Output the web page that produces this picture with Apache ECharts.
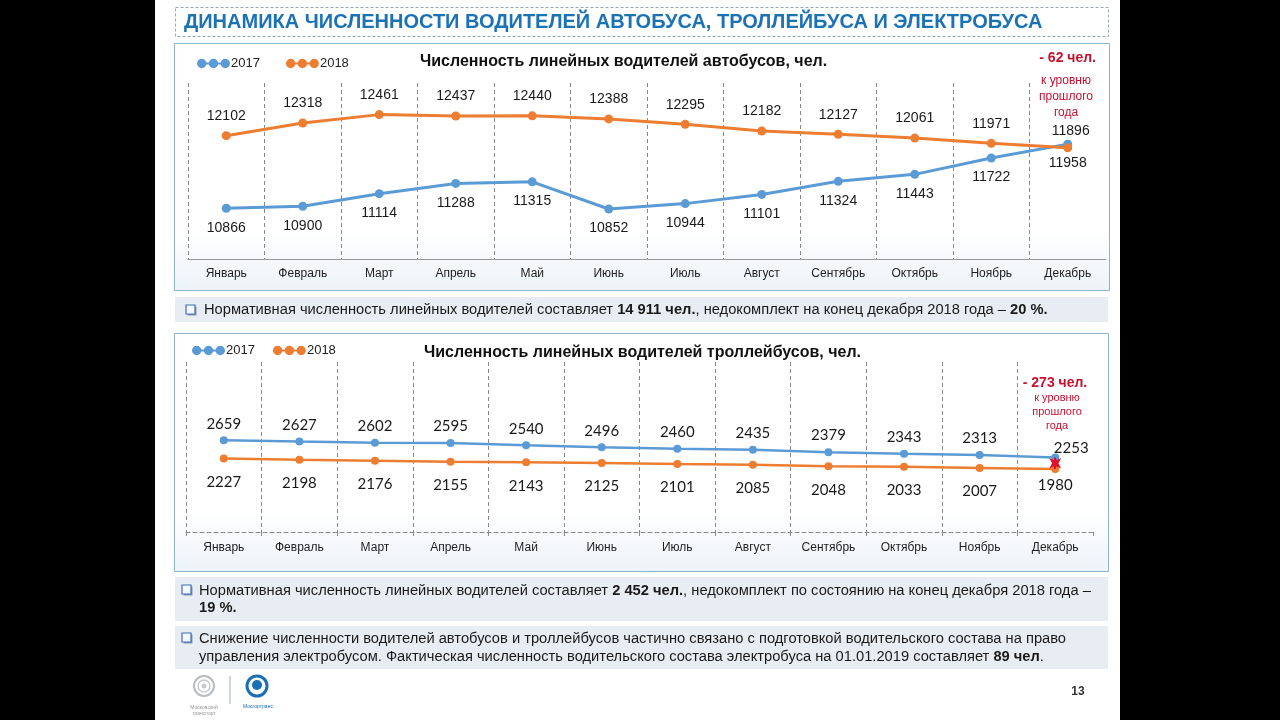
<!DOCTYPE html>
<html><head><meta charset="utf-8">
<script src="https://cdn.jsdelivr.net/npm/echarts@6/dist/echarts.min.js"></script>
<style>html,body{margin:0;padding:0;background:#000;}#c{width:1280px;height:720px;}</style>
</head><body><div id="c"></div>
<script>
const months = ['Январь','Февраль','Март','Апрель','Май','Июнь','Июль','Август','Сентябрь','Октябрь','Ноябрь','Декабрь'];
const years = ['2017','2018'];
const bus2017 = [10866,10900,11114,11288,11315,10852,10944,11101,11324,11443,11722,11958];
const bus2018 = [12102,12318,12461,12437,12440,12388,12295,12182,12127,12061,11971,11896];
const trol2017 = [2659,2627,2602,2595,2540,2496,2460,2435,2379,2343,2313,2253];
const trol2018 = [2227,2198,2176,2155,2143,2125,2101,2085,2048,2033,2007,1980];

const F = '"Liberation Sans", Arial, sans-serif';
const BLUE = '#5B9BD5', ORANGE = '#ED7D31', RED = '#C8102E';
const ICON = 'path://M5,4.2H25V5.8H5Z M1,5A4,4 0 1,1 9,5A4,4 0 1,1 1,5Z M11,5A4,4 0 1,1 19,5A4,4 0 1,1 11,5Z M21,5A4,4 0 1,1 29,5A4,4 0 1,1 21,5Z';

function withLast(vals, lastLabel){
  return vals.map((v,i)=> i===vals.length-1 ? {value:v, label:lastLabel} : v);
}

const chart = echarts.init(document.getElementById('c'), null, {renderer:'canvas'});

const FS = 14.7;
function bullet(x,y){
  return [
    {type:'rect', z:5, shape:{x:x+1.5,y:y+1.5,width:9,height:9}, style:{fill:'#8a9bb0'}},
    {type:'rect', z:6, shape:{x:x,y:y,width:9,height:9}, style:{fill:'#f4f8fc', stroke:'#3F6FB0', lineWidth:1.2}}
  ];
}
function txt(x,y,text){
  return {type:'text', z:10, x:x, y:y, style:{text:text, font:FS+'px '+F, fill:'#1a1a1a', verticalAlign:'middle',
    rich:{b:{fontWeight:'bold', fontSize:FS, fontFamily:F, fill:'#1a1a1a'}}}};
}

const graphic = [
  {type:'rect', z:-20, shape:{x:155,y:0,width:965,height:720}, style:{fill:'#ffffff'}},
  {type:'rect', z:-19, shape:{x:175.5,y:7.5,width:933,height:29}, style:{fill:'#ffffff', stroke:'#9aa6b2', lineWidth:1, lineDash:[3,2]}},
  {type:'rect', z:-18, shape:{x:174.5,y:43.5,width:935,height:247}, style:{fill:new echarts.graphic.LinearGradient(0,0,0,1,[{offset:0,color:'#ffffff'},{offset:0.75,color:'#ffffff'},{offset:1,color:'#edf3f8'}]), stroke:'#8fb2c8', lineWidth:1}},
  {type:'rect', z:-18, shape:{x:174.5,y:333.5,width:934,height:238}, style:{fill:new echarts.graphic.LinearGradient(0,0,0,1,[{offset:0,color:'#ffffff'},{offset:0.75,color:'#ffffff'},{offset:1,color:'#edf3f8'}]), stroke:'#8fb2c8', lineWidth:1}},
  {type:'rect', z:-18, shape:{x:175,y:297,width:933,height:25}, style:{fill:'#e8edf4'}},
  {type:'rect', z:-18, shape:{x:175,y:577,width:933,height:44}, style:{fill:'#e8edf4'}},
  {type:'rect', z:-18, shape:{x:175,y:626,width:933,height:43}, style:{fill:'#e8edf4'}},
  ...bullet(186,305),
  ...bullet(182,585),
  ...bullet(182,633),
  txt(204,310,'Нормативная численность линейных водителей составляет {b|14 911 чел.}, недокомплект на конец декабря 2018 года – {b|20 %.}'),
  txt(199,591,'Нормативная численность линейных водителей составляет {b|2 452 чел.}, недокомплект по состоянию на конец декабря 2018 года –'),
  txt(199,608,'{b|19 %.}'),
  txt(199,639,'Снижение численности водителей автобусов и троллейбусов частично связано с подготовкой водительского состава на право'),
  txt(199,657,'управления электробусом. Фактическая численность водительского состава электробуса на 01.01.2019 составляет {b|89 чел}.'),
  {type:'text', z:10, x:1096, y:58, style:{text:'- 62 чел.', font:'bold 14px '+F, fill:RED, align:'right', verticalAlign:'middle'}},
  {type:'text', z:10, x:1066, y:73, style:{text:'к уровню\nпрошлого\nгода', font:'12px '+F, fill:RED, align:'center', verticalAlign:'top', lineHeight:16}},
  {type:'text', z:10, x:1055, y:383, style:{text:'- 273 чел.', font:'bold 14px '+F, fill:RED, align:'center', verticalAlign:'middle'}},
  {type:'text', z:10, x:1057, y:391, style:{text:'к уровню\nпрошлого\nгода', font:'11px '+F, fill:RED, align:'center', verticalAlign:'top', lineHeight:14}},
  {type:'text', z:10, x:1078, y:692, style:{text:'13', font:'bold 12px '+F, fill:'#333', align:'center', verticalAlign:'middle'}},
  {type:'circle', z:5, shape:{cx:204,cy:686,r:10}, style:{fill:'none', stroke:'#b8bcc0', lineWidth:2}},
  {type:'circle', z:5, shape:{cx:204,cy:686,r:6}, style:{fill:'none', stroke:'#c8ccd0', lineWidth:1.5}},
  {type:'circle', z:5, shape:{cx:204,cy:686,r:2.5}, style:{fill:'#c8ccd0'}},
  {type:'text', z:5, x:204, y:705, style:{text:'Московский\nтранспорт', font:'5px '+F, fill:'#999', align:'center', verticalAlign:'top', lineHeight:6}},
  {type:'line', z:5, shape:{x1:230,y1:676,x2:230,y2:704}, style:{stroke:'#9aa8b8', lineWidth:1}},
  {type:'circle', z:5, shape:{cx:257,cy:686,r:10}, style:{fill:'none', stroke:'#1a6fb5', lineWidth:3}},
  {type:'circle', z:5, shape:{cx:257,cy:685,r:5}, style:{fill:'#1a6fb5'}},
  {type:'text', z:5, x:258, y:704, style:{text:'Мосгортранс', font:'5px '+F, fill:'#1a6fb5', align:'center', verticalAlign:'top'}}
];

const labelBase = {show:true, fontFamily:F, fontSize:14, color:'#1a1a1a'};
const label2Base = {show:true, fontFamily:'Lato, "Open Sans", sans-serif', fontSize:15, color:'#1a1a1a'};

const option = {
  backgroundColor:'#000000',
  animation:false,
  title:[
    {text:'ДИНАМИКА ЧИСЛЕННОСТИ ВОДИТЕЛЕЙ АВТОБУСА, ТРОЛЛЕЙБУСА И ЭЛЕКТРОБУСА', left:184, top:12, padding:0,
      textStyle:{fontFamily:F, fontWeight:'bold', fontSize:20, color:'#1B72B5'}},
    {text:'Численность линейных водителей автобусов, чел.', left:420, top:54, padding:0,
      textStyle:{fontFamily:F, fontWeight:'bold', fontSize:16, color:'#111'}},
    {text:'Численность линейных водителей троллейбусов, чел.', left:424, top:345, padding:0,
      textStyle:{fontFamily:F, fontWeight:'bold', fontSize:16, color:'#111'}}
  ],
  legend:[
    {data:years, left:197, top:57, padding:0, icon:ICON, itemWidth:33, itemHeight:10, itemGap:26,
      textStyle:{fontFamily:F, fontSize:13, color:'#222', padding:[0,0,0,-4]}},
    {data:years, left:192, top:344, padding:0, icon:ICON, itemWidth:33, itemHeight:10, itemGap:18,
      textStyle:{fontFamily:F, fontSize:13, color:'#222', padding:[0,0,0,-4]}}
  ],
  grid:[
    {left:188, top:83, width:918, height:176},
    {left:186, top:362, width:907, height:170}
  ],
  xAxis:[
    {type:'category', gridIndex:0, data:months, boundaryGap:true,
      axisLine:{lineStyle:{color:'#9a9a9a', width:1}}, axisTick:{show:false},
      axisLabel:{fontFamily:F, fontSize:12, color:'#222', margin:9, interval:0},
      splitLine:{show:true, interval:0, showMaxLine:false, lineStyle:{color:'#8a8a8a', type:[4,3], width:1}}},
    {type:'category', gridIndex:1, data:months, boundaryGap:true,
      axisLine:{lineStyle:{color:'#8a8a8a', width:1, type:[4,3]}},
      axisTick:{show:true, length:4, lineStyle:{color:'#8a8a8a'}},
      axisLabel:{fontFamily:F, fontSize:12, color:'#222', margin:10, interval:0},
      splitLine:{show:true, interval:0, showMaxLine:false, lineStyle:{color:'#8a8a8a', type:[4,3], width:1}}}
  ],
  yAxis:[
    {type:'value', gridIndex:0, min:10000, max:13000, show:false, splitLine:{show:false}},
    {type:'value', gridIndex:1, min:500, max:4500, show:false, splitLine:{show:false}}
  ],
  series:[
    {name:years[0], type:'line', xAxisIndex:0, yAxisIndex:0, color:BLUE, symbol:'circle', symbolSize:9,
      lineStyle:{width:3, color:BLUE}, itemStyle:{color:BLUE},
      label:Object.assign({position:'bottom', distance:8}, labelBase),
      data:bus2017},
    {name:years[1], type:'line', xAxisIndex:0, yAxisIndex:0, color:ORANGE, symbol:'circle', symbolSize:9,
      lineStyle:{width:3, color:ORANGE}, itemStyle:{color:ORANGE},
      label:Object.assign({position:'top', distance:8}, labelBase),
      data:withLast(bus2018, {position:'top', distance:5, offset:[3,0]})},
    {name:years[0], type:'line', xAxisIndex:1, yAxisIndex:1, color:BLUE, symbol:'circle', symbolSize:8,
      lineStyle:{width:2.5, color:BLUE}, itemStyle:{color:BLUE},
      label:Object.assign({position:'top', distance:5}, label2Base),
      data:withLast(trol2017, {position:'top', distance:0, offset:[16,2]}),
      markLine:{silent:true, z:10, symbol:['arrow','arrow'], symbolSize:[9,11], precision:0,
        lineStyle:{color:'#E0102A', width:2, type:'solid'}, label:{show:false},
        data:[[{coord:[months[11], trol2017[11]]},{coord:[months[11], trol2018[11]]}]]}},
    {name:years[1], type:'line', xAxisIndex:1, yAxisIndex:1, color:ORANGE, symbol:'circle', symbolSize:8,
      lineStyle:{width:2.5, color:ORANGE}, itemStyle:{color:ORANGE},
      label:Object.assign({position:'bottom', distance:12}, label2Base),
      data:withLast(trol2018, {position:'bottom', distance:5})}
  ],
  graphic:graphic
};
chart.setOption(option);
</script></body></html>
